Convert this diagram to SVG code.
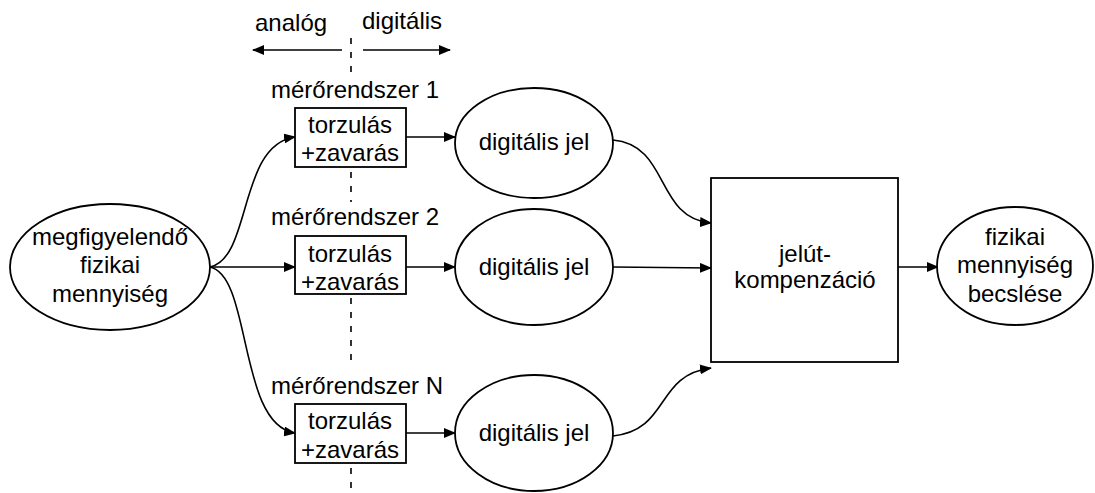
<svg xmlns="http://www.w3.org/2000/svg" width="1095" height="493" viewBox="0 0 1095 493">
<style>
text{font-family:"Liberation Sans",Arial,sans-serif;font-size:24px;fill:#000}
.c{text-anchor:middle}
.s{fill:#fff;stroke:#000;stroke-width:1.8}
.l{fill:none;stroke:#000;stroke-width:1.6}
.d{fill:none;stroke:#000;stroke-width:1.6;stroke-dasharray:6 8}
</style>
<defs>
<marker id="ah" markerUnits="userSpaceOnUse" markerWidth="12" markerHeight="10" refX="11" refY="5" orient="auto">
<path d="M0,0 L12,5 L0,10 Z" fill="#000"/>
</marker>
</defs>
<rect width="1095" height="493" fill="#fff"/>
<g id="divider">
<path class="d" d="M351,38 V76 M351,172 V202 M351,298 V362 M351,468 V493"/>
<text x="255" y="31">analóg</text>
<text x="362" y="29">digitális</text>
</g>
<g id="connectors">
<path class="l" d="M342,50 H253" marker-end="url(#ah)"/>
<path class="l" d="M363,50 H450" marker-end="url(#ah)"/>
<path class="l" d="M210,267 C252,258 238,145 295,137" marker-end="url(#ah)"/>
<path class="l" d="M210,267 H295" marker-end="url(#ah)"/>
<path class="l" d="M210,267 C252,276 238,425 295,433" marker-end="url(#ah)"/>
<path class="l" d="M406,137 H455" marker-end="url(#ah)"/>
<path class="l" d="M406,267 H455" marker-end="url(#ah)"/>
<path class="l" d="M406,433 H455" marker-end="url(#ah)"/>
<path class="l" d="M613,140 C670,145 655,218 711,223" marker-end="url(#ah)"/>
<path class="l" d="M613,267 L711,268" marker-end="url(#ah)"/>
<path class="l" d="M613,436 C670,430 655,375 711,368" marker-end="url(#ah)"/>
<path class="l" d="M898,267 H938" marker-end="url(#ah)"/>
</g>
<g id="source">
<ellipse class="s" cx="110" cy="267" rx="100" ry="63"/>
<text class="c" x="110" y="245">megfigyelendő</text>
<text class="c" x="110" y="273">fizikai</text>
<text class="c" x="110" y="302">mennyiség</text>
</g>
<g id="system1">
<text class="c" x="355" y="98">mérőrendszer 1</text>
<rect class="s" x="295" y="108" width="111" height="59"/>
<text class="c" x="350" y="133">torzulás</text>
<text class="c" x="350" y="161">+zavarás</text>
</g>
<g id="system2">
<text class="c" x="355" y="225">mérőrendszer 2</text>
<rect class="s" x="295" y="236" width="111" height="58"/>
<text class="c" x="350" y="262">torzulás</text>
<text class="c" x="350" y="290">+zavarás</text>
</g>
<g id="systemN">
<text class="c" x="357" y="394">mérőrendszer N</text>
<rect class="s" x="295" y="404" width="111" height="59"/>
<text class="c" x="350" y="429">torzulás</text>
<text class="c" x="350" y="458">+zavarás</text>
</g>
<g id="digital1">
<ellipse class="s" cx="534" cy="143" rx="79" ry="55"/>
<text class="c" x="534" y="150">digitális jel</text>
</g>
<g id="digital2">
<ellipse class="s" cx="534" cy="267" rx="79" ry="58"/>
<text class="c" x="534" y="275">digitális jel</text>
</g>
<g id="digitalN">
<ellipse class="s" cx="534" cy="433" rx="79" ry="58"/>
<text class="c" x="534" y="441">digitális jel</text>
</g>
<g id="compensation">
<rect class="s" x="711" y="178" width="187" height="184"/>
<text class="c" x="805" y="262">jelút-</text>
<text class="c" x="805" y="288">kompenzáció</text>
</g>
<g id="estimate">
<ellipse class="s" cx="1015" cy="266" rx="78" ry="59"/>
<text class="c" x="1015" y="245">fizikai</text>
<text class="c" x="1015" y="273">mennyiség</text>
<text class="c" x="1015" y="302">becslése</text>
</g>
</svg>
